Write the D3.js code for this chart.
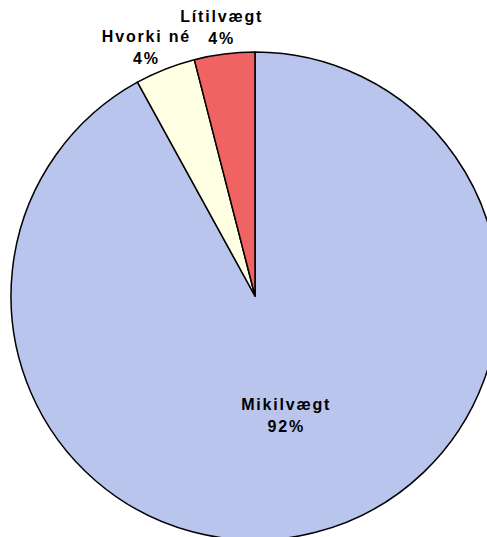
<!DOCTYPE html>
<html>
<head>
<meta charset="utf-8">
<script src="https://cdn.jsdelivr.net/npm/d3@7"></script>
<style>
body { margin:0; background:#fff; }
text { font-family: "Liberation Sans", Arial, sans-serif; font-weight:bold; font-size:16px; letter-spacing:1.8px; fill:#000; }
</style>
</head>
<body>
<div id="chart"></div>
<script>
// slice order clockwise from 12 o'clock
var categories = ["Mikilvægt", "Hvorki né", "Lítilvægt"]
var values = [92, 4, 4]
var pctLabels = ["92%", "4%", "4%"]
var colors = ["#b9c5ec", "#ffffe3", "#f06363"]

var width = 487, height = 537
var cx = 255, cy = 296, radius = 244

var svg = d3.select("#chart").append("svg")
    .attr("width", width)
    .attr("height", height)

var g = svg.append("g")
    .attr("transform", "translate(" + cx + "," + cy + ")")

var data = categories.map(function(c, i) { return { name: c, value: values[i], pct: pctLabels[i], color: colors[i] } })

var pie = d3.pie().sort(null).value(function(d) { return d.value })
var arc = d3.arc().innerRadius(0).outerRadius(radius)

var arcs = pie(data)

g.selectAll("path")
  .data(arcs)
  .enter().append("path")
    .attr("d", arc)
    .style("fill", function(d) { return d.data.color })
    .style("stroke", "#000")
    .style("stroke-width", 1.5)
    .style("stroke-linejoin", "round")

// label positions: big slice inside, small slices outside
var inner = d3.arc().innerRadius(radius * 0.5).outerRadius(radius * 0.5)
var outer = d3.arc().innerRadius(radius + 29).outerRadius(radius + 29)
var nudge = [[0, 0], [-9, 4], [0, 1]]

var labels = g.append("g").attr("class", "labels")
labels.selectAll("g")
  .data(arcs)
  .enter().append("g")
    .attr("transform", function(d, i) {
      var p = i == 0 ? inner.centroid(d) : outer.centroid(d)
      return "translate(" + (p[0] + nudge[i][0]) + "," + (p[1] + nudge[i][1]) + ")"
    })
    .each(function(d) {
      var t = d3.select(this)
      t.append("text").attr("text-anchor", "middle").attr("dx", 0.9).attr("y", -4).text(d.data.name)
      t.append("text").attr("text-anchor", "middle").attr("dx", 0.9).attr("y", 18).text(d.data.pct)
    })
</script>
</body>
</html>
